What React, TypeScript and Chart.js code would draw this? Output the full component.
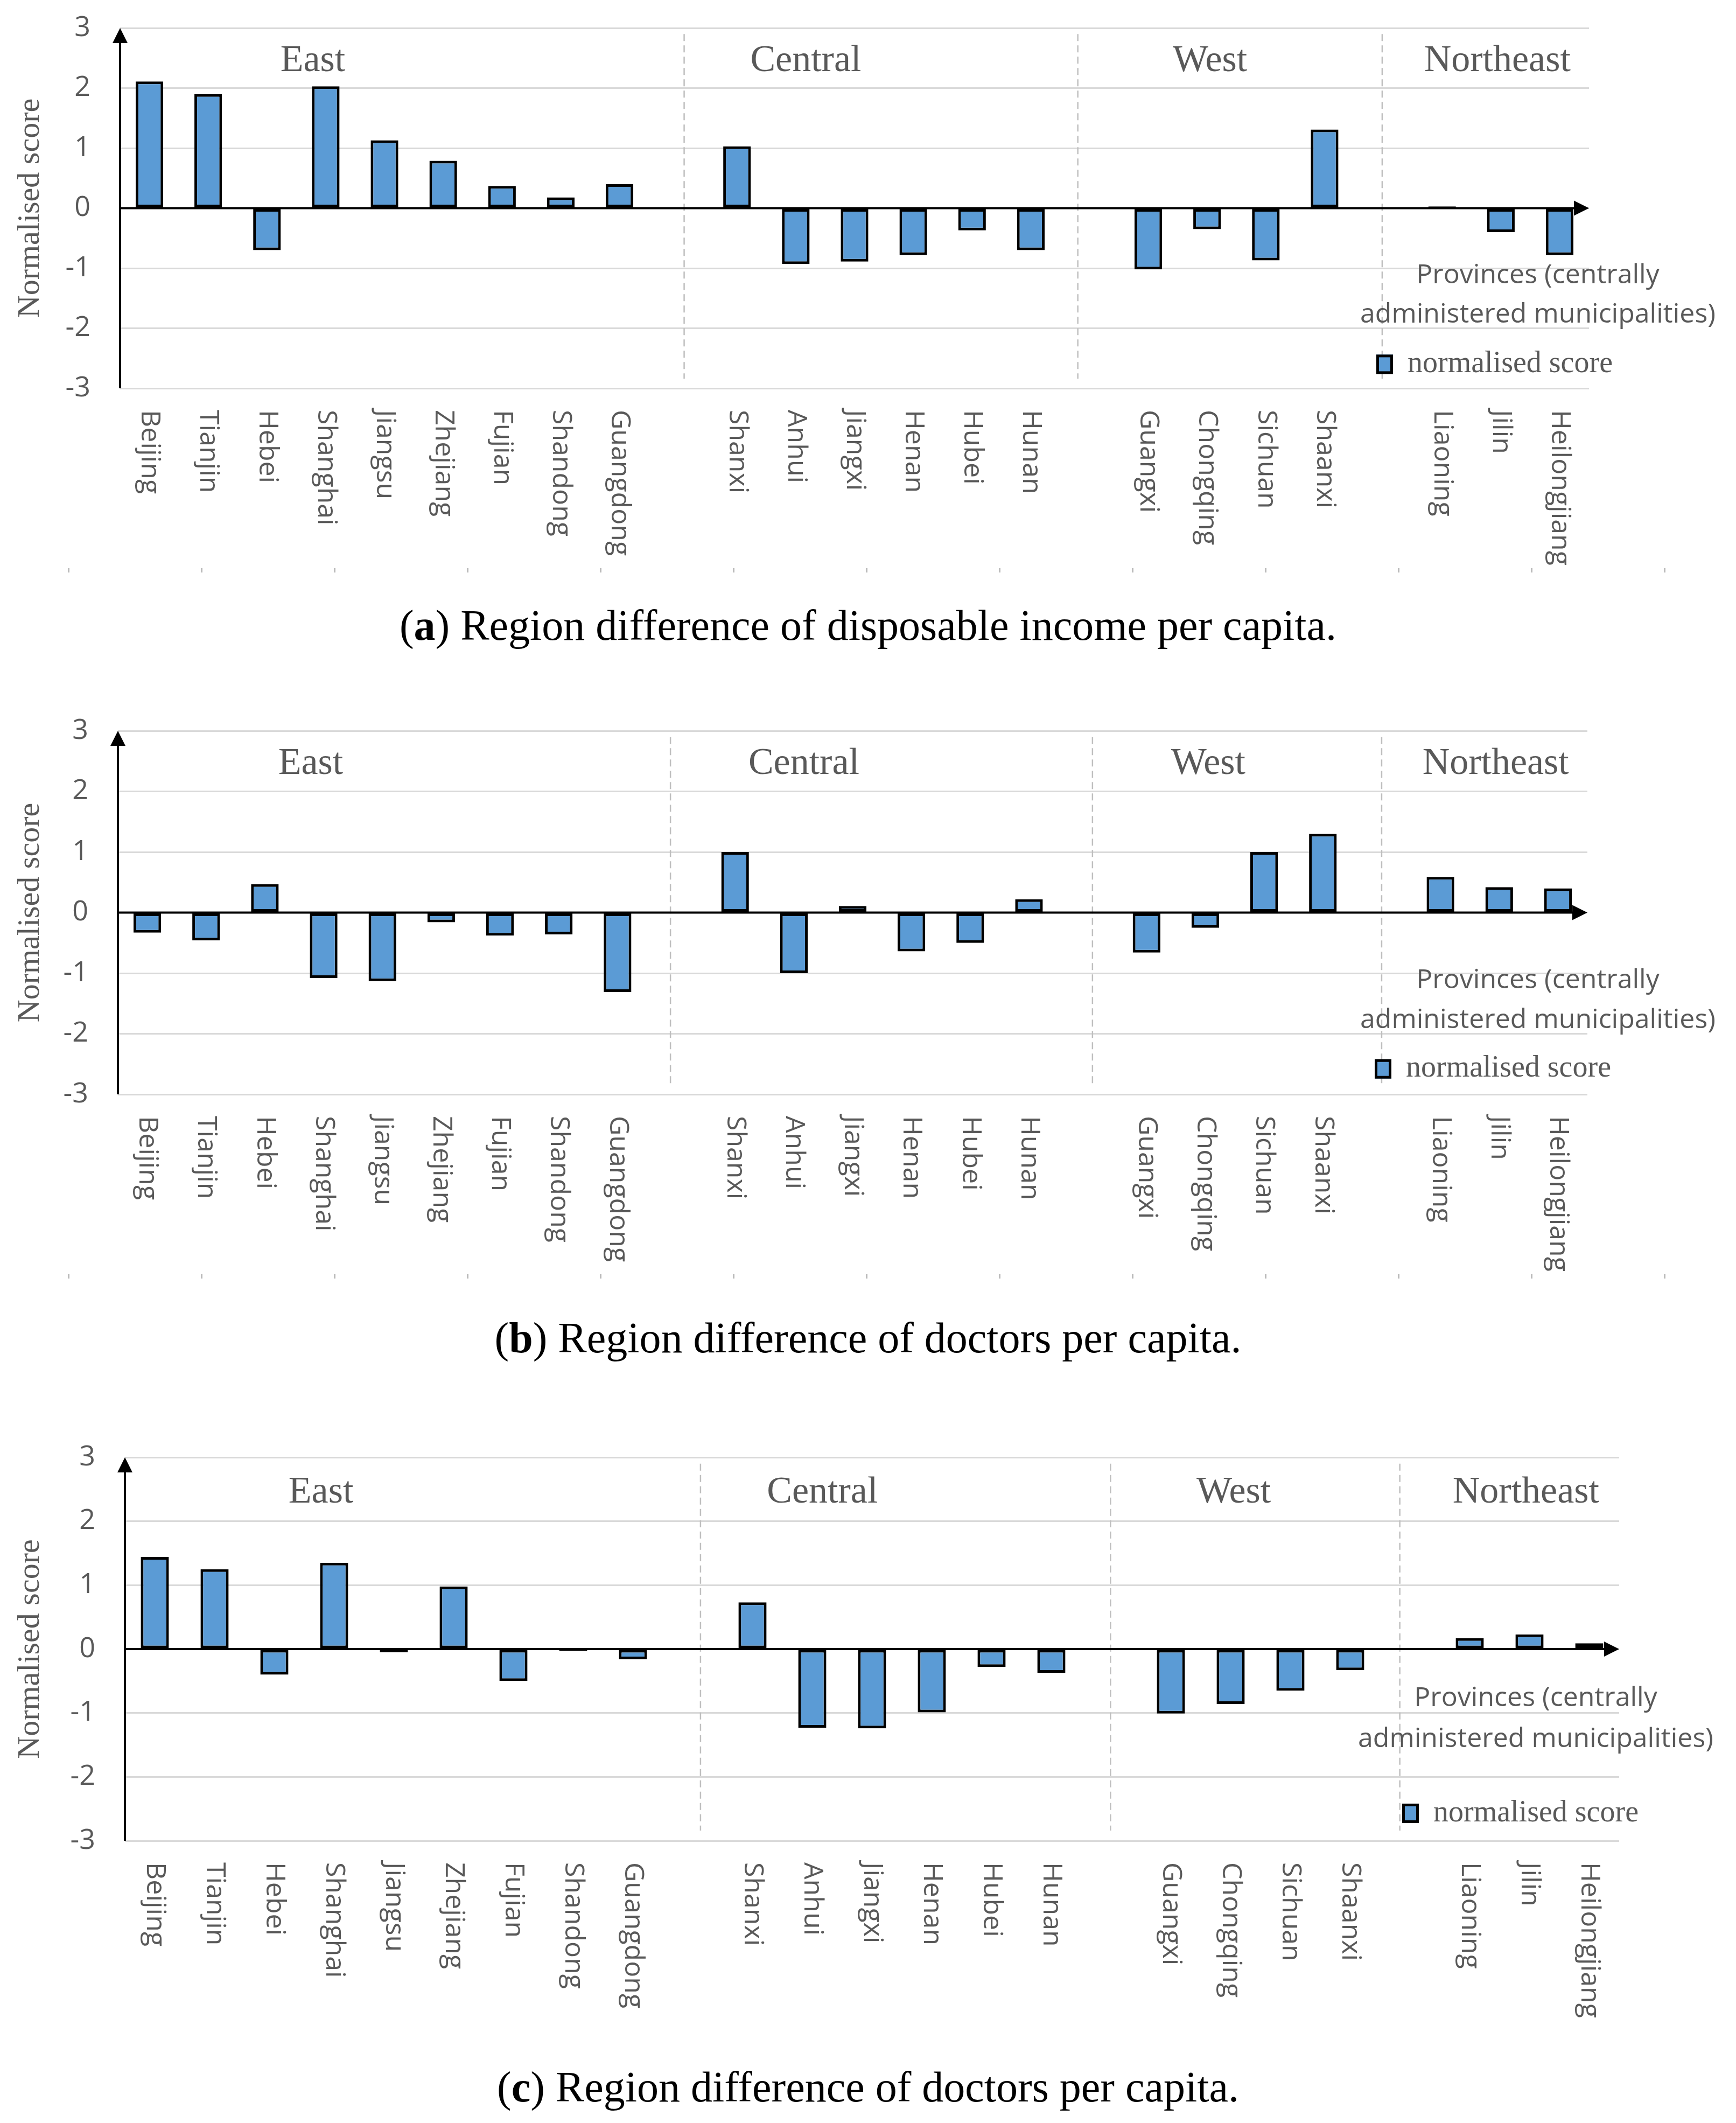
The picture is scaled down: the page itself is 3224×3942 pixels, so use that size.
import React, { useEffect, useRef } from "react";
import { Chart, registerables } from "chart.js";

Chart.register(...registerables);

// ---------- data ----------
const EAST = ["Beijing", "Tianjin", "Hebei", "Shanghai", "Jiangsu", "Zhejiang", "Fujian", "Shandong", "Guangdong"];
const CENTRAL = ["Shanxi", "Anhui", "Jiangxi", "Henan", "Hubei", "Hunan"];
const WEST = ["Guangxi", "Chongqing", "Sichuan", "Shaanxi"];
const NORTHEAST = ["Liaoning", "Jilin", "Heilongjiang"];
const REGION_NAMES = ["East", "Central", "West", "Northeast"];

const INCOME_EAST = [2.11, 1.9, -0.7, 2.03, 1.13, 0.79, 0.37, 0.18, 0.4];
const INCOME_CENTRAL = [1.03, -0.93, -0.89, -0.78, -0.37, -0.7];
const INCOME_WEST = [-1.02, -0.35, -0.87, 1.31];
const INCOME_NORTHEAST = [0.03, -0.4, -0.78];

const DOCTORS_B_EAST = [-0.33, -0.46, 0.47, -1.08, -1.13, -0.16, -0.38, -0.36, -1.31];
const DOCTORS_B_CENTRAL = [1.0, -1.0, 0.11, -0.64, -0.5, 0.22];
const DOCTORS_B_WEST = [-0.66, -0.25, 1.0, 1.3];
const DOCTORS_B_NORTHEAST = [0.59, 0.42, 0.4];

const DOCTORS_C_EAST = [1.44, 1.25, -0.4, 1.35, -0.05, 0.98, -0.5, -0.03, -0.16];
const DOCTORS_C_CENTRAL = [0.73, -1.23, -1.24, -0.99, -0.28, -0.37];
const DOCTORS_C_WEST = [-1.01, -0.86, -0.65, -0.33];
const DOCTORS_C_NORTHEAST = [0.17, 0.23, 0.09];

const Y_TICK_MIN = -3;
const Y_TICK_MAX = 3;
const Y_TITLE = "Normalised score";
const X_TITLE_LINES = ["Provinces (centrally", "administered municipalities)"];
const SERIES_LABEL = "normalised score";

const CAPTION_TAGS = ["a", "b", "c"];
const CAPTION_TEXTS = [
  " Region difference of disposable income per capita.",
  " Region difference of doctors per capita.",
  " Region difference of doctors per capita.",
];

// categories with an empty slot between regions
const CATEGORIES = [...EAST, "", ...CENTRAL, "", ...WEST, "", ...NORTHEAST];
function withGaps(e: number[], c: number[], w: number[], n: number[]) {
  return [...e, null, ...c, null, ...w, null, ...n];
}
const SERIES = [
  withGaps(INCOME_EAST, INCOME_CENTRAL, INCOME_WEST, INCOME_NORTHEAST),
  withGaps(DOCTORS_B_EAST, DOCTORS_B_CENTRAL, DOCTORS_B_WEST, DOCTORS_B_NORTHEAST),
  withGaps(DOCTORS_C_EAST, DOCTORS_C_CENTRAL, DOCTORS_C_WEST, DOCTORS_C_NORTHEAST),
];

// ---------- layout / style ----------
const PAGE_W = 3224;
const BAR_COLOR = "#5B9BD5";
const GREY_TEXT = "#595959";
const SERIF = "'Liberation Serif', 'Times New Roman', serif";
const SANS = "'Open Sans', 'Noto Sans', sans-serif";
const REGION_LABEL_POS = [3.28, 11.67, 18.55, 23.44]; // in category-slot units from left edge
const REGION_LABEL_VALUE = 2.45;

const PANELS = [
  {
    top: 0, height: 1100,
    area: { left: 223, top: 52, right: 2951, bottom: 721 },
    separators: [9.6, 16.3, 21.48],
    xTitleX: 2856, xTitleY: [-1.12, -1.78],
    legendX: 2556, legendY: -2.6,
    dots: true,
    captionBaseline: 1188,
  },
  {
    top: 1300, height: 1100,
    area: { left: 219, top: 57, right: 2948, bottom: 732 },
    separators: [9.4, 16.58, 21.5],
    xTitleX: 2856, xTitleY: [-1.12, -1.78],
    legendX: 2553, legendY: -2.58,
    dots: true,
    captionBaseline: 2511,
  },
  {
    top: 2640, height: 1180,
    area: { left: 232, top: 66, right: 3007, bottom: 778 },
    separators: [9.63, 16.49, 21.33],
    xTitleX: 2852, xTitleY: [-0.77, -1.41],
    legendX: 2604, legendY: -2.57,
    dots: false,
    captionBaseline: 3902,
  },
];

function makeDecorPlugin(panel: any) {
  return {
    id: "decor",
    beforeDatasetsDraw(chart: any) {
      const { ctx } = chart;
      const xs = chart.scales.x;
      const ys = chart.scales.y;
      const nSlots = CATEGORIES.length;
      // dashed region separators
      ctx.save();
      ctx.strokeStyle = "#BFBFBF";
      ctx.lineWidth = 2.5;
      ctx.setLineDash([13, 8]);
      panel.separators.forEach((p: number) => {
        const x = xs.getPixelForDecimal(p / nSlots);
        ctx.beginPath();
        ctx.moveTo(x, ys.getPixelForValue(2.9));
        ctx.lineTo(x, ys.getPixelForValue(-2.84));
        ctx.stroke();
      });
      ctx.restore();
      // region names
      ctx.save();
      ctx.fillStyle = GREY_TEXT;
      ctx.font = `70px ${SERIF}`;
      ctx.textAlign = "center";
      ctx.textBaseline = "middle";
      REGION_NAMES.forEach((name, i) => {
        const x = xs.getPixelForDecimal(REGION_LABEL_POS[i] / nSlots);
        ctx.fillText(name, x, ys.getPixelForValue(REGION_LABEL_VALUE));
      });
      ctx.restore();
    },
    afterDatasetsDraw(chart: any) {
      const { ctx, chartArea } = chart;
      const ys = chart.scales.y;
      const y0 = ys.getPixelForValue(0);
      const yTop = ys.getPixelForValue(Y_TICK_MAX);
      const yBot = ys.getPixelForValue(Y_TICK_MIN);
      const L = chartArea.left;
      const R = chartArea.right;
      ctx.save();
      ctx.strokeStyle = "#000";
      ctx.fillStyle = "#000";
      ctx.lineWidth = 4;
      // y axis with arrow
      ctx.beginPath();
      ctx.moveTo(L, yBot);
      ctx.lineTo(L, yTop + 20);
      ctx.stroke();
      ctx.beginPath();
      ctx.moveTo(L, yTop);
      ctx.lineTo(L - 14, yTop + 28);
      ctx.lineTo(L + 14, yTop + 28);
      ctx.closePath();
      ctx.fill();
      // x axis (zero line) with arrow
      ctx.beginPath();
      ctx.moveTo(L, y0);
      ctx.lineTo(R - 20, y0);
      ctx.stroke();
      ctx.beginPath();
      ctx.moveTo(R, y0);
      ctx.lineTo(R - 28, y0 - 14);
      ctx.lineTo(R - 28, y0 + 14);
      ctx.closePath();
      ctx.fill();
      ctx.restore();
    },
    afterDraw(chart: any) {
      const { ctx, chartArea } = chart;
      const xs = chart.scales.x;
      const ys = chart.scales.y;
      // rotated category labels (reading top to bottom)
      ctx.save();
      ctx.fillStyle = GREY_TEXT;
      ctx.font = `50px ${SANS}`;
      ctx.textAlign = "left";
      ctx.textBaseline = "middle";
      CATEGORIES.forEach((lab, i) => {
        if (!lab) return;
        const x = xs.getPixelForValue(i);
        ctx.save();
        ctx.translate(x, chartArea.bottom + 40);
        ctx.rotate(Math.PI / 2);
        ctx.fillText(lab, 0, 0);
        ctx.restore();
      });
      ctx.restore();
      // x-axis title inside plot
      ctx.save();
      ctx.fillStyle = GREY_TEXT;
      ctx.font = `50px ${SANS}`;
      ctx.textAlign = "center";
      ctx.textBaseline = "middle";
      X_TITLE_LINES.forEach((line, i) => {
        ctx.fillText(line, panel.xTitleX, ys.getPixelForValue(panel.xTitleY[i]));
      });
      ctx.restore();
      // legend
      const ds = chart.data.datasets[0];
      const ly = ys.getPixelForValue(panel.legendY);
      ctx.save();
      ctx.fillStyle = ds.backgroundColor;
      ctx.strokeStyle = "#000";
      ctx.lineWidth = 5;
      ctx.fillRect(panel.legendX, ly - 18, 31, 36);
      ctx.strokeRect(panel.legendX + 2.5, ly - 15.5, 26, 31);
      ctx.fillStyle = GREY_TEXT;
      ctx.font = `56px ${SERIF}`;
      ctx.textAlign = "left";
      ctx.textBaseline = "middle";
      ctx.fillText(ds.label, panel.legendX + 58, ly);
      ctx.restore();
      // faint tick dots below labels
      if (panel.dots) {
        ctx.save();
        ctx.fillStyle = "#BBBBBB";
        for (let k = 0; k < 13; k++) {
          ctx.fillRect(127 + 247 * k - 1, chartArea.bottom + 334, 3, 8);
        }
        ctx.restore();
      }
    },
  };
}

function Panel({ index }: { index: number }) {
  const ref = useRef<HTMLCanvasElement | null>(null);
  const panel = PANELS[index];
  useEffect(() => {
    if (!ref.current) return;
    const a = panel.area;
    const chart = new Chart(ref.current, {
      type: "bar",
      data: {
        labels: CATEGORIES,
        datasets: [
          {
            label: SERIES_LABEL,
            data: SERIES[index] as any,
            backgroundColor: BAR_COLOR,
            borderColor: "#000000",
            borderWidth: 5,
            borderSkipped: false,
            barPercentage: 0.47,
            categoryPercentage: 1,
          },
        ],
      },
      options: {
        responsive: false,
        animation: false,
        devicePixelRatio: 1,
        layout: { padding: { left: 0, top: a.top, right: PAGE_W - a.right, bottom: 0 } },
        plugins: { legend: { display: false }, tooltip: { enabled: false } },
        scales: {
          x: {
            type: "category",
            grid: { display: false },
            border: { display: false },
            ticks: { display: false },
            afterFit: (s: any) => {
              s.height = panel.height - a.bottom;
              s.paddingLeft = 0;
              s.paddingRight = 0;
              s.paddingTop = 0;
              s.paddingBottom = 0;
            },
          },
          y: {
            min: Y_TICK_MIN,
            max: Y_TICK_MAX,
            ticks: {
              stepSize: 1,
              color: GREY_TEXT,
              font: { family: SANS, size: 52 },
              padding: 55,
            },
            grid: { color: "#D9D9D9", lineWidth: 3, drawTicks: false },
            border: { display: false },
            title: {
              display: true,
              text: Y_TITLE,
              color: GREY_TEXT,
              font: { family: SERIF, size: 58 },
              padding: { top: 22, bottom: 0 },
            },
            afterFit: (s: any) => {
              s.width = a.left;
              s.paddingLeft = 0;
              s.paddingRight = 0;
              s.paddingTop = 0;
              s.paddingBottom = 0;
            },
          },
        },
      },
      plugins: [makeDecorPlugin(panel)],
    });
    return () => chart.destroy();
  }, [index]);
  return (
    <>
      <canvas
        ref={ref}
        width={PAGE_W}
        height={panel.height}
        style={{ position: "absolute", left: 0, top: panel.top, width: PAGE_W, height: panel.height }}
      />
      <div
        style={{
          position: "absolute",
          left: 0,
          width: PAGE_W,
          top: panel.captionBaseline - 67,
          textAlign: "center",
          fontFamily: SERIF,
          fontSize: 80,
          lineHeight: "80px",
          color: "#000",
          whiteSpace: "nowrap",
        }}
      >
        (<b>{CAPTION_TAGS[index]}</b>){CAPTION_TEXTS[index]}
      </div>
    </>
  );
}

export default function App() {
  return (
    <div style={{ position: "absolute", left: 0, top: 0, width: PAGE_W, height: 3942, background: "#fff" }}>
      <Panel index={0} />
      <Panel index={1} />
      <Panel index={2} />
    </div>
  );
}
